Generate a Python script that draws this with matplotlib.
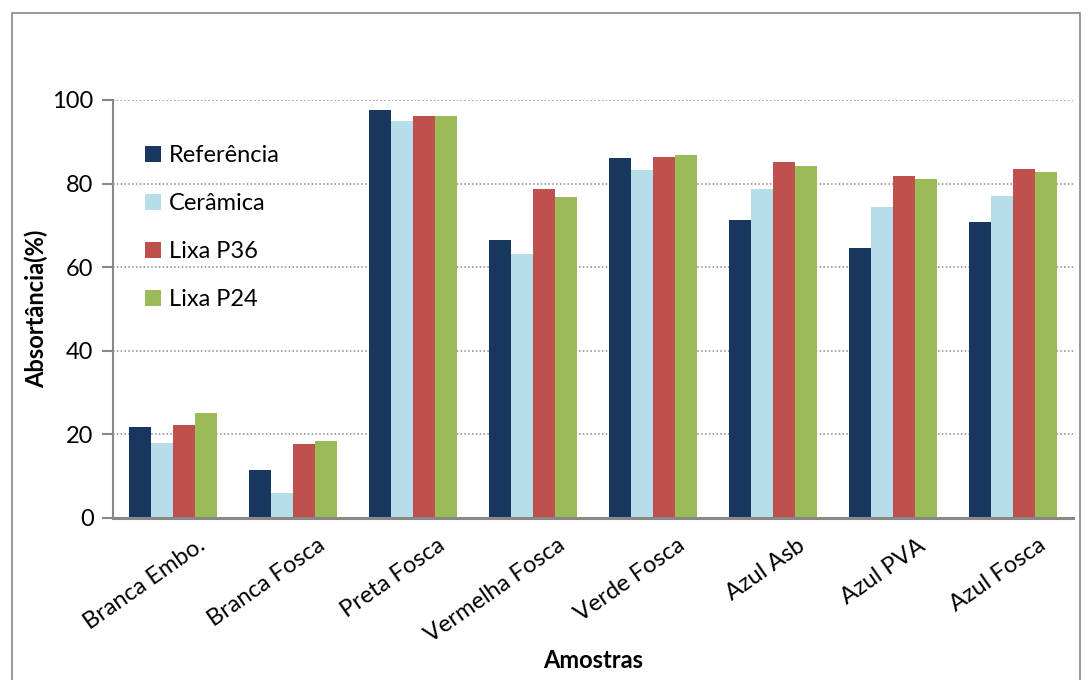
import numpy as np
import matplotlib
matplotlib.use("Agg")
import matplotlib.pyplot as plt
from matplotlib.patches import Rectangle

plt.rcParams['font.family'] = ['Lato', 'DejaVu Sans']

amostras = ["Branca Embo.", "Branca Fosca", "Preta Fosca", "Vermelha Fosca",
            "Verde Fosca", "Azul Asb", "Azul PVA", "Azul Fosca"]
referencia = [21.8, 11.4, 97.6, 66.6, 86.2, 71.2, 64.6, 70.9]
ceramica = [18.0, 6.0, 95.0, 63.1, 83.2, 78.7, 74.4, 77.0]
lixa_p36 = [22.3, 17.6, 96.1, 78.8, 86.3, 85.1, 81.8, 83.6]
lixa_p24 = [25.2, 18.4, 96.1, 76.9, 86.9, 84.3, 81.2, 82.7]

series = [("Referência", referencia, "#17375e"),
          ("Cerâmica", ceramica, "#b7dde8"),
          ("Lixa P36", lixa_p36, "#c0504d"),
          ("Lixa P24", lixa_p24, "#9bbb59")]

fig = plt.figure(figsize=(10.92, 6.8), dpi=100)
ax = fig.add_axes([113 / 1092, 1 - 518 / 680, 960 / 1092, 418 / 680])

# borda externa do gráfico
fig.patches.append(Rectangle((12 / 1092, -0.1), 1068 / 1092, 1.1 - 13 / 680,
                             transform=fig.transFigure, fill=False,
                             edgecolor="#888888", linewidth=1.2))

x = np.arange(len(amostras))
w = 0.183
for i, (nome, vals, cor) in enumerate(series):
    ax.bar(x + (i - 1.5) * w, vals, w, color=cor, label=nome, zorder=3)

ax.set_xlim(-0.5, len(amostras) - 0.5)
ax.set_ylim(0, 100)
ax.set_yticks(range(0, 101, 20))
ax.yaxis.grid(True, linestyle=(0, (1, 1.5)), color="#888888", linewidth=1.1, zorder=0)
ax.tick_params(axis="y", labelsize=17, length=8, color="#888888", width=1.5, pad=6)
ax.tick_params(axis="x", length=0, labelsize=17, pad=12)
for s in ["top", "right"]:
    ax.spines[s].set_visible(False)
ax.spines["left"].set_color("#888888")
ax.spines["left"].set_linewidth(1.5)
ax.spines["bottom"].set_color("#888888")
ax.spines["bottom"].set_linewidth(2.2)
ax.spines["bottom"].set_zorder(4)

ax.set_xticks(x + 0.2)
ax.set_xticklabels(amostras, rotation=35, ha="right", rotation_mode="anchor")
ax.set_ylabel("Absortância(%)", fontsize=17, fontweight="bold", labelpad=3)
ax.set_xlabel("Amostras", fontsize=17, fontweight="bold", labelpad=2)

ax.legend(loc="upper left", bbox_to_anchor=(0.024, 0.915), frameon=False,
          fontsize=17, handlelength=0.65, handleheight=0.65, handletextpad=0.35,
          labelspacing=1.15, borderaxespad=0)

fig.savefig("out.png", dpi=100)
